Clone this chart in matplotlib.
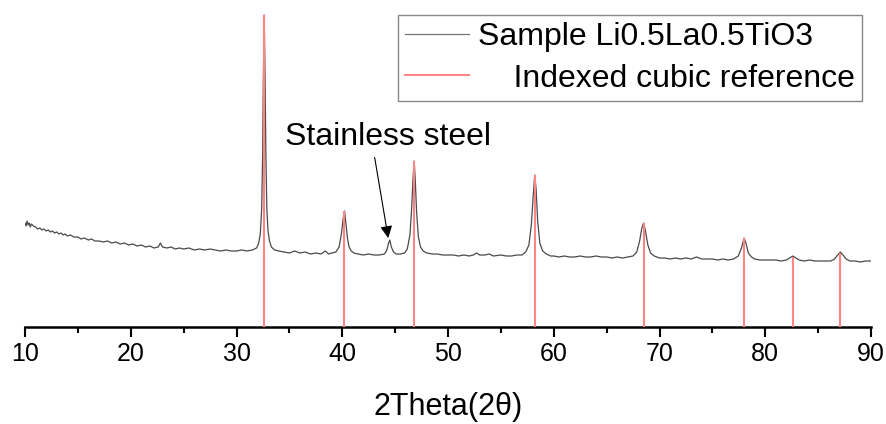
import matplotlib
matplotlib.use("Agg")
import matplotlib.pyplot as plt
from matplotlib.lines import Line2D

plt.rcParams['font.family'] = ['Liberation Sans', 'DejaVu Sans']

# Measured XRD pattern (2theta in degrees, intensity in arbitrary units)
two_theta = [
    10.0, 10.1, 10.2, 10.3, 10.4, 10.5, 10.6, 10.8, 11.0, 11.2, 11.4, 11.6, 11.8, 12.0, 12.2, 12.4,
    12.6, 12.8, 13.0, 13.2, 13.4, 13.6, 13.8, 14.0, 14.3, 14.6, 15.0, 15.3, 15.6, 16.0, 16.3, 16.6,
    17.0, 17.4, 17.8, 18.2, 18.6, 19.0, 19.4, 19.8, 20.2, 20.6, 21.0, 21.4, 21.8, 22.2, 22.6, 22.8,
    23.0, 23.4, 23.8, 24.2, 24.6, 25.0, 25.5, 26.0, 26.5, 27.0, 27.5, 28.0, 28.5, 29.0, 29.5, 30.0,
    30.5, 31.0, 31.5, 31.9, 32.1, 32.25, 32.38, 32.47, 32.54, 32.62, 32.7, 32.78, 32.87, 32.98, 33.12,
    33.3, 33.6, 34.0, 34.5, 35.0, 35.5, 36.0, 36.5, 37.0, 37.5, 38.0, 38.4, 38.7, 39.0, 39.4, 39.7,
    39.92, 40.08, 40.22, 40.36, 40.5, 40.65, 40.85, 41.1, 41.5, 42.0, 42.5, 43.0, 43.5, 44.0, 44.22,
    44.38, 44.5, 44.64, 44.85, 45.1, 45.5, 45.9, 46.15, 46.4, 46.57, 46.7, 46.8, 46.9, 47.03, 47.2,
    47.4, 47.65, 48.0, 48.5, 49.0, 49.5, 50.0, 50.5, 51.0, 51.5, 52.0, 52.4, 52.7, 53.0, 53.5, 53.9,
    54.3, 55.0, 55.5, 56.0, 56.5, 57.0, 57.35, 57.65, 57.88, 58.05, 58.2, 58.33, 58.48, 58.68, 58.95,
    59.3, 59.7, 60.0, 60.5, 61.0, 61.5, 62.0, 62.5, 63.0, 63.5, 64.0, 64.5, 65.0, 65.5, 66.0, 66.5,
    67.0, 67.5, 67.85, 68.12, 68.33, 68.5, 68.67, 68.9, 69.15, 69.5, 70.0, 70.5, 71.0, 71.5, 72.0,
    72.5, 73.0, 73.5, 74.0, 74.5, 75.0, 75.5, 76.0, 76.5, 77.0, 77.45, 77.75, 78.0, 78.2, 78.4,
    78.7, 79.0, 79.5, 80.0, 80.5, 81.0, 81.5, 82.0, 82.3, 82.6, 82.9, 83.2, 83.7, 84.2, 84.7,
    85.2, 85.7, 86.2, 86.55, 86.85, 87.1, 87.35, 87.65, 88.0, 88.5, 89.0, 89.5, 90.0,
]
intensity = [
    104, 101, 106, 102, 104, 100, 103, 101, 100, 98, 99, 97, 98, 96, 97, 95,
    96, 94, 95, 93, 94, 92, 93, 91, 92, 90, 90, 88, 89, 87, 88, 86,
    86, 85, 86, 84, 85, 83, 84, 82, 83, 81, 82, 80, 81, 79, 80, 84,
    80, 79, 80, 78, 79, 78, 79, 77, 78, 77, 78, 77, 76, 77, 76, 76,
    77, 76, 77, 79, 84, 93, 118, 170, 250, 312, 250, 170, 118, 96, 86,
    80, 77, 76, 75, 74, 76, 74, 75, 73, 74, 73, 76, 73, 74, 75, 80,
    93, 108, 116, 102, 88, 80, 76, 74, 73, 72, 73, 72, 72, 73, 77,
    84, 87, 80, 75, 73, 73, 74, 78, 92, 120, 150, 166, 148, 115, 90,
    80, 76, 74, 73, 73, 72, 72, 72, 71, 72, 71, 72, 74, 72, 72, 73,
    71, 72, 71, 71, 72, 72, 75, 82, 102, 130, 152, 138, 106, 84, 76,
    73, 71, 71, 70, 71, 70, 70, 71, 70, 70, 71, 70, 70, 69, 70, 69,
    70, 71, 75, 86, 99, 104, 96, 82, 74, 71, 69, 69, 68, 69, 68,
    69, 68, 70, 68, 68, 68, 67, 68, 67, 68, 71, 79, 89, 83, 74,
    70, 68, 67, 67, 67, 67, 66, 67, 69, 71, 69, 67, 66, 67, 66,
    66, 66, 66, 68, 72, 75, 72, 68, 66, 66, 65, 66, 66,
]

# Indexed cubic reference reflections
ref_positions = [32.6, 40.2, 46.8, 58.2, 68.5, 78.0, 82.6, 87.1]
ref_heights = [312, 116, 166, 152, 104, 89, 70, 74]

x_ticks = [10, 20, 30, 40, 50, 60, 70, 80, 90]
legend_labels = ["Sample Li0.5La0.5TiO3", "    Indexed cubic reference"]
annotation_text = "Stainless steel"
annotation_target = (44.35, 89)
annotation_text_pos = (34.6, 182)
x_label = "2Theta(2\u03b8)"

fig = plt.figure(figsize=(8.87, 4.24), dpi=100)
ax = fig.add_axes([25 / 887, 97 / 424, (871 - 25) / 887, 327 / 424])

data_color = '#4a4a4a'
ref_color = '#ff8585'

ax.plot(two_theta, intensity, color=data_color, lw=0.9, zorder=2)
ax.vlines(ref_positions, 0, ref_heights, color=ref_color, lw=1.5, zorder=3)

ax.set_xlim(10, 90)
ax.set_ylim(0, 327)

for s in ['left', 'right', 'top']:
    ax.spines[s].set_visible(False)
ax.spines['bottom'].set_linewidth(1.8)
ax.set_yticks([])
ax.set_xticks(x_ticks)
ax.set_xticks([15, 25, 35, 45, 55, 65, 75, 85], minor=True)
ax.tick_params(axis='x', which='major', direction='out', length=7.5, width=1.5,
               labelsize=18, pad=3)
ax.tick_params(axis='x', which='minor', direction='out', length=4, width=1.5)
ax.set_xlabel(x_label, fontsize=22, labelpad=19)

ax.annotate(annotation_text, xy=annotation_target, xytext=annotation_text_pos,
            textcoords='data', fontsize=23, ha='left', va='baseline',
            arrowprops=dict(arrowstyle='-|>', color='black', lw=0.8,
                            mutation_scale=18, relpos=(0.43, 0.0),
                            shrinkA=2, shrinkB=0))

handles = [Line2D([], [], color='#777777', lw=0.9),
           Line2D([], [], color=ref_color, lw=1.5)]
leg = ax.legend(handles, legend_labels, loc='upper right',
                bbox_to_anchor=(862 / 887, 1 - 15 / 424), bbox_transform=fig.transFigure,
                fontsize=23, frameon=True, fancybox=False, framealpha=1,
                edgecolor='#888888', borderpad=0.22, labelspacing=0.36,
                handlelength=2.0, handletextpad=0.3, borderaxespad=0)
leg.get_frame().set_linewidth(1.0)

fig.savefig('out.png', dpi=100)
